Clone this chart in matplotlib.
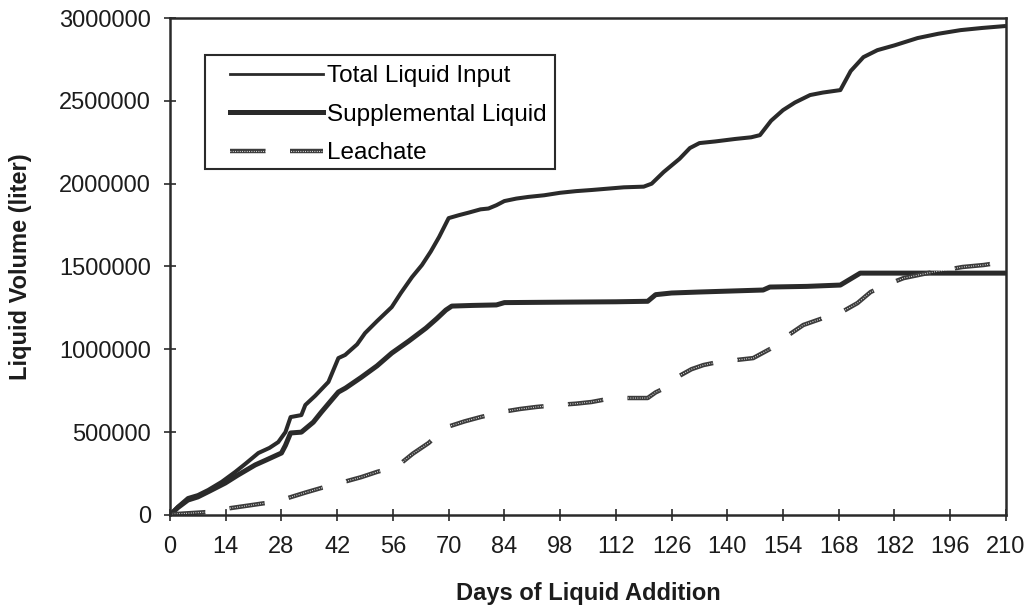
import numpy as np
import matplotlib
matplotlib.use("Agg")
import matplotlib.pyplot as plt
from matplotlib.patches import Rectangle
from matplotlib.ticker import FuncFormatter, MultipleLocator

plt.rcParams["font.family"] = ["Liberation Sans", "DejaVu Sans"]

# --- data ---
days_total = [0, 2, 4.5, 7, 9.6, 13, 16.4, 19, 22.2, 25, 27.2, 29, 30.3, 33, 34,
              36.5, 39.8, 42.3, 44, 47, 49, 52, 55.7, 58, 60.8, 63.3, 65.5, 67.6,
              70, 72.6, 75, 78, 80, 82, 84, 87, 90, 94, 98, 102, 106, 110, 114,
              119, 121, 124, 128, 130.6, 133, 137, 142, 146, 148.2, 151, 154,
              157, 160.8, 164, 168.4, 171, 174.2, 177.7, 182, 187.8, 193, 198.6,
              204, 209.5]
total_input = [0, 50000, 102000, 120000, 151000, 200000, 260000, 310000, 374000,
               405000, 440000, 500000, 591000, 603000, 664000, 720000, 803000,
               947000, 966000, 1030000, 1098000, 1170000, 1255000, 1340000,
               1436000, 1509000, 1590000, 1678000, 1792000, 1810000, 1825000,
               1845000, 1850000, 1870000, 1895000, 1910000, 1920000, 1930000,
               1945000, 1955000, 1962000, 1970000, 1978000, 1982000, 2000000,
               2070000, 2150000, 2215000, 2245000, 2255000, 2270000, 2280000,
               2293000, 2380000, 2444000, 2490000, 2535000, 2550000, 2565000,
               2680000, 2764000, 2806000, 2835000, 2879000, 2905000, 2927000,
               2940000, 2951000]

days_supp = [0, 2, 4.5, 7, 10, 13.9, 17, 21.4, 24, 28, 29, 30.3, 33, 36, 38,
             40.6, 42.3, 44.1, 48, 52, 55.7, 60, 64.3, 67, 69.3, 70.8, 76, 82,
             84, 100, 112, 120, 122, 126, 133, 149, 150.7, 160, 168.4, 173.4,
             190, 209.5]
supplemental = [0, 45000, 90000, 109000, 145000, 193000, 240000, 302000, 330000,
                374000, 420000, 495000, 500000, 560000, 620000, 694000, 742000,
                766000, 830000, 900000, 977000, 1050000, 1128000, 1185000,
                1237000, 1261000, 1265000, 1268000, 1282000, 1285000, 1287000,
                1290000, 1330000, 1340000, 1346000, 1358000, 1376000, 1380000,
                1388000, 1460000, 1460000, 1460000]

days_leach = [0, 1, 9.6, 12, 15.4, 20, 24, 27, 29.7, 34, 38, 43.6, 48, 52, 55,
              57.5, 61, 65, 67.5, 69.6, 74, 78, 83.4, 88, 92, 97.3, 102, 105.9,
              111.2, 120, 122, 124.8, 128, 131, 134, 137.6, 146.5, 151.2, 155,
              159.1, 164.1, 168, 172.7, 176, 180, 184.3, 190.3, 199.1, 204.4,
              209.5]
leachate = [0, 5000, 18000, 30000, 42000, 58000, 72000, 90000, 103000, 135000,
            163000, 199000, 228000, 260000, 280000, 302000, 370000, 435000,
            490000, 531000, 565000, 591000, 622000, 640000, 652000, 664000,
            672000, 682000, 706000, 706000, 740000, 772000, 840000, 880000,
            905000, 923000, 947000, 1008000, 1080000, 1147000, 1189000, 1215000,
            1279000, 1346000, 1390000, 1430000, 1460000, 1497000, 1509000,
            1527000]

series_labels = ["Total Liquid Input", "Supplemental Liquid", "Leachate"]

ink = "#2a2a2a"
text_col = "#1c1c1c"

fig = plt.figure(figsize=(10.29, 6.09), dpi=100)
ax = fig.add_axes([0.1652, 0.1544, 0.8124, 0.8160])

l_total, = ax.plot(days_total, total_input, color=ink, lw=2.9,
                   solid_joinstyle="round")
l_supp, = ax.plot(days_supp, supplemental, color=ink, lw=3.6,
                  solid_joinstyle="round")
# leachate: dashed, with a fine white dot texture over the dashes
dash = (0, (8, 5.5))
l_leach, = ax.plot(days_leach, leachate, color="#3c3c3c", lw=3.2,
                   linestyle=dash, dash_capstyle="butt")
l_tex, = ax.plot(days_leach, leachate, color="white", lw=0.8,
                 linestyle=(0, (0.7, 1.4)))

ax.set_xlim(0, 210)
ax.set_ylim(0, 3000000)
ax.xaxis.set_major_locator(MultipleLocator(14))
ax.yaxis.set_major_locator(MultipleLocator(500000))
ax.yaxis.set_major_formatter(FuncFormatter(lambda v, _: f"{int(v)}"))

ax.tick_params(axis="both", direction="inout", length=9, width=1.2,
               color=ink, labelsize=17, labelcolor=text_col)
ax.tick_params(axis="x", pad=11)
ax.tick_params(axis="y", pad=9)
for sp in ax.spines.values():
    sp.set_color(ink)
    sp.set_linewidth(1.8)

ax.set_xlabel("Days of Liquid Addition", fontsize=17, fontweight="bold",
              color=text_col, labelpad=17)
ax.set_ylabel("Liquid Volume (liter)", fontsize=17, fontweight="bold",
              color=text_col, labelpad=20)

# legend: frameless legend plus a plain box drawn around it
h_total, = ax.plot([], [], color=ink, lw=2.0)
h_supp, = ax.plot([], [], color=ink, lw=3.6)
leg = ax.legend([h_total, h_supp, (l_leach, l_tex)], series_labels,
                loc="upper left", bbox_to_anchor=(0.072, 0.905),
                fontsize=17.5, handlelength=3.8, handletextpad=0.2,
                labelspacing=0.68, borderpad=0, frameon=False,
                borderaxespad=0)
box = Rectangle((0.042, 0.696), 0.418, 0.229, transform=ax.transAxes,
                fill=False, edgecolor=ink, lw=1.5, zorder=6)
ax.add_patch(box)

fig.savefig("out.png", dpi=100)
